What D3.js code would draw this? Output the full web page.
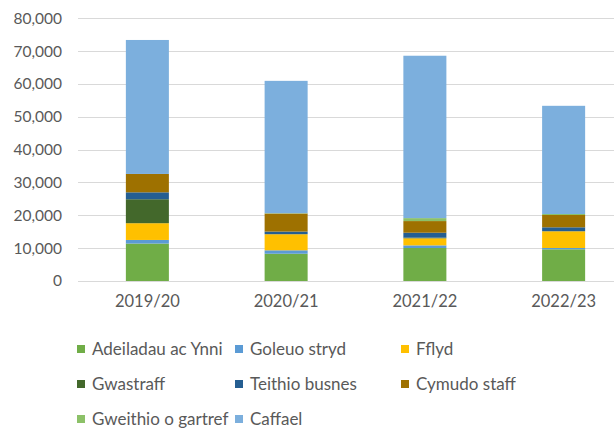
<!DOCTYPE html>
<html><head><meta charset="utf-8">
<script src="https://cdn.jsdelivr.net/npm/d3@7"></script>
<style>
html,body{margin:0;padding:0;background:#fff;overflow:hidden}
svg{display:block}
text{font-family:Lato,"Open Sans",sans-serif;fill:#595959}
</style></head>
<body>
<svg id="c" width="614" height="428"></svg>
<script>
const categories = ["2019/20","2020/21","2021/22","2022/23"];
const seriesNames = ["Adeiladau ac Ynni","Goleuo stryd","Fflyd","Gwastraff","Teithio busnes","Cymudo staff","Gweithio o gartref","Caffael"];
const adeiladau = [11400, 8300, 10050, 9650];
const goleuo    = [1100, 1050, 800, 400];
const fflyd     = [5100, 4900, 2150, 5100];
const gwastraff = [7300, 0, 200, 0];
const teithio   = [2100, 800, 1500, 1200];
const cymudo    = [5600, 5500, 3550, 3750];
const gweithio  = [0, 100, 900, 300];
const caffael   = [40800, 40300, 49450, 32950];
const yTicks = [0,10000,20000,30000,40000,50000,60000,70000,80000];
const colors = ["#70AD47","#5B9BD5","#FFC000","#43682B","#255E91","#9E7100","#8CC168","#7CAFDD"];

const seriesValues = [adeiladau,goleuo,fflyd,gwastraff,teithio,cymudo,gweithio,caffael];
const rows = categories.map((c,i)=>{const r={cat:c}; seriesNames.forEach((s,j)=>r[s]=seriesValues[j][i]); return r;});
const stacked = d3.stack().keys(seriesNames)(rows);

const svg = d3.select("#c");
const x = d3.scaleBand().domain(categories).range([78,633]).paddingInner(0.69).paddingOuter(0.345);
const y = d3.scaleLinear().domain([0,80000]).range([281,18.3]);

// gridlines
svg.append("g").selectAll("line").data(yTicks).join("line")
  .attr("x1",78).attr("x2",633)
  .attr("y1",d=>Math.round(y(d))+0.5).attr("y2",d=>Math.round(y(d))+0.5)
  .attr("stroke","#D9D9D9").attr("stroke-width",1);

// y axis labels
const yAxis = d3.axisLeft(y).tickValues(yTicks).tickFormat(d3.format(",")).tickSize(0).tickPadding(0);
const ya = svg.append("g").attr("transform","translate(62,0)").call(yAxis);
ya.select(".domain").remove();
ya.selectAll("text").style("font-size","15.5px").attr("fill","#595959").style("font-family","Lato,'Open Sans',sans-serif");

// bars
svg.append("g").selectAll("g").data(stacked).join("g")
  .attr("fill",(d,i)=>colors[i])
  .selectAll("rect").data(d=>d).join("rect")
  .attr("x",d=>x(d.data.cat))
  .attr("width",x.bandwidth())
  .attr("y",d=>y(d[1]))
  .attr("height",d=>Math.max(0,y(d[0])-y(d[1])));

// x axis
const xAxis = d3.axisBottom(x).tickSize(0).tickPadding(14);
const xa = svg.append("g").attr("transform","translate(0,281)").call(xAxis);
xa.select(".domain").remove();
xa.selectAll("text").style("font-size","16.5px").attr("fill","#595959").style("font-family","Lato,'Open Sans',sans-serif");

// legend
const colX = [77,235,401];
const rowY = [349,384,419];
const lg = svg.append("g");
seriesNames.forEach((s,i)=>{
  const cx = colX[i%3], cy = rowY[Math.floor(i/3)];
  lg.append("rect").attr("x",cx).attr("y",cy-4).attr("width",8).attr("height",8).attr("fill",colors[i]);
  lg.append("text").attr("x",cx+15).attr("y",cy).attr("dy","0.35em").style("font-size","17px").text(s);
});
</script>
</body></html>
